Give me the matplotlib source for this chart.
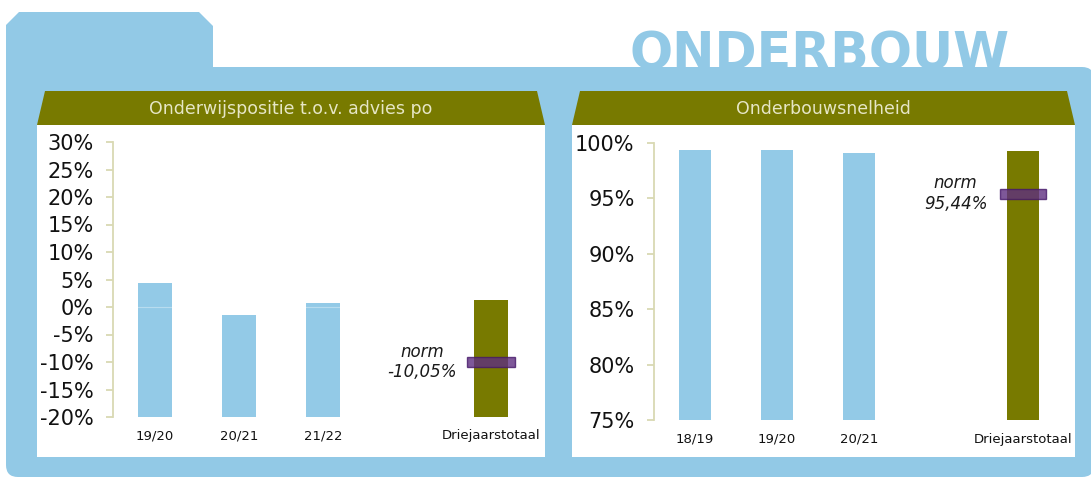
import matplotlib.pyplot as plt
from matplotlib.patches import Polygon, FancyBboxPatch
from matplotlib.ticker import FuncFormatter

# ---------------------------------------------------------------- data
left_title = "Onderwijspositie t.o.v. advies po"
left_cats = ["19/20", "20/21", "21/22", "Driejaarstotaal"]
left_vals = [4.4, -1.4, 0.7, 1.2]
left_norm = -10.05
left_ticks = [-20, -15, -10, -5, 0, 5, 10, 15, 20, 25, 30]

right_title = "Onderbouwsnelheid"
right_cats = ["18/19", "19/20", "20/21", "Driejaarstotaal"]
right_vals = [99.4, 99.4, 99.1, 99.3]
right_norm = 95.44
right_ticks = [75, 80, 85, 90, 95, 100]

BLUE = "#92C9E6"
BAR = "#93CAE7"
OLIVE = "#787A00"
CREAM = "#E6E6C6"
PURPLE = "#5E2E80"
PEDGE = "#45186A"
SPINE = "#D9D9B3"

W, H = 1091, 478
fig = plt.figure(figsize=(W / 100, H / 100), dpi=100)

# background in pixel coordinates
bg = fig.add_axes([0, 0, 1, 1])
bg.set_xlim(0, W)
bg.set_ylim(H, 0)
bg.axis("off")

bg.text(820, 69, "ONDERBOUW", fontsize=36.5, fontweight="bold", color=BLUE,
        ha="center", va="baseline", zorder=0)

bg.add_patch(Polygon([(6, 25), (19, 12), (199, 12), (213, 26), (213, 80), (6, 80)],
                     closed=True, fc=BLUE, ec="none", zorder=1))
bg.add_patch(FancyBboxPatch((6, 67), 1088, 410, boxstyle="round,pad=0,rounding_size=12",
                            fc=BLUE, ec="none", zorder=1))

# panels: white body + olive trapezoid header
for x0, x1, title in [(37, 545, left_title), (572, 1075, right_title)]:
    bg.add_patch(Polygon([(x0, 125), (x1, 125), (x1, 457), (x0, 457)],
                         closed=True, fc="white", ec="none", zorder=2))
    bg.add_patch(Polygon([(x0 + 8, 91), (x1 - 8, 91), (x1, 125), (x0, 125)],
                         closed=True, fc=OLIVE, ec="none", zorder=2))
    bg.text((x0 + x1) / 2, 109, title, fontsize=12.5, color=CREAM,
            ha="center", va="center", zorder=3)


def px_axes(x0, y0, x1, y1):
    return fig.add_axes([x0 / W, 1 - y1 / H, (x1 - x0) / W, (y1 - y0) / H])


def draw_chart(ax, cats, vals, norm, ticks, fmt, marker_h):
    pos = [0, 1, 2, 4]
    ymin, ymax = ticks[0], ticks[-1]
    ax.set_facecolor("none")
    ax.bar(pos[:3], [v - ymin for v in vals[:3]], bottom=ymin, width=0.4,
           color=BAR, zorder=2)
    # light zero line only shows over the yearly bars
    if ymin < 0:
        ax.axhline(0, color="white", alpha=0.35, linewidth=0.8, zorder=2.5)
    ax.bar(pos[3], vals[3] - ymin, bottom=ymin, width=0.4, color=OLIVE, zorder=3)
    # norm marker on the totaal bar
    ax.bar(pos[3], marker_h, bottom=norm - marker_h / 2, width=0.56,
           color=PURPLE, alpha=0.8, edgecolor=PEDGE, linewidth=1.0, zorder=4)
    ax.text(3.18, norm, "norm\n" + fmt(norm), fontsize=12, style="italic",
            color="#1a1a1a", ha="center", va="center", linespacing=1.15)
    ax.set_xlim(-0.5, 4.5)
    ax.set_ylim(ymin, ymax)
    ax.set_yticks(ticks)
    ax.yaxis.set_major_formatter(FuncFormatter(lambda v, p: "%d%%" % v))
    ax.set_xticks(pos)
    ax.set_xticklabels(cats)
    for s in ["top", "right", "bottom"]:
        ax.spines[s].set_visible(False)
    ax.spines["left"].set_color(SPINE)
    ax.spines["left"].set_linewidth(1.3)
    ax.tick_params(axis="y", length=5, width=1.3, color=SPINE, pad=9,
                   labelsize=15, labelcolor="#111111")
    ax.tick_params(axis="x", length=0, pad=9, labelsize=9.5, labelcolor="#111111")


fmt_pct = lambda v: ("%.2f%%" % v).replace(".", ",")

axl = px_axes(113, 142, 533, 417)
draw_chart(axl, left_cats, left_vals, left_norm, left_ticks, fmt_pct, 1.8)

axr = px_axes(654, 143, 1064, 420)
draw_chart(axr, right_cats, right_vals, right_norm, right_ticks, fmt_pct, 0.9)

fig.savefig("out.png", dpi=100)
